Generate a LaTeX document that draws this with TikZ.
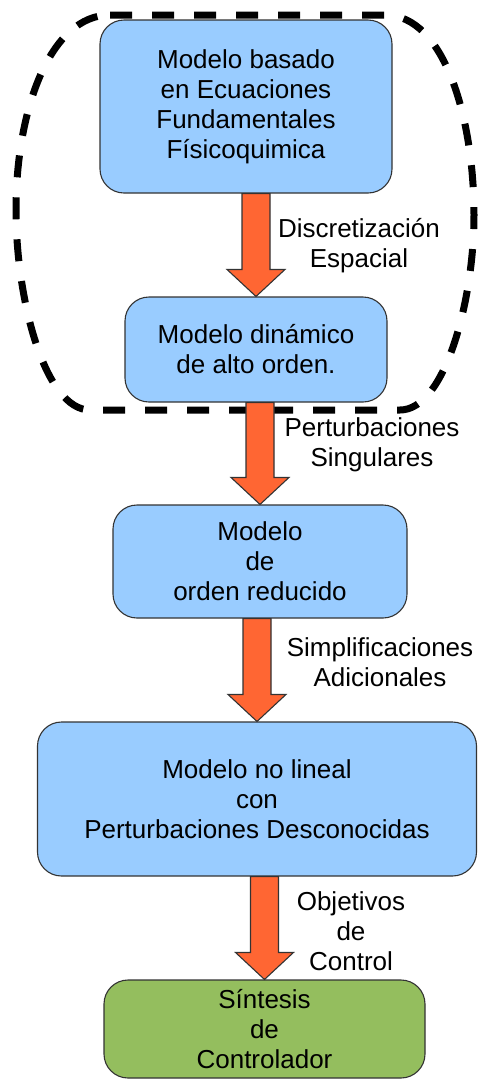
\documentclass[tikz,border=0pt]{standalone}
\usepackage{fontspec}
\setmainfont{Liberation Sans}
\usetikzlibrary{calc}

\definecolor{boxblue}{RGB}{153,204,255}
\definecolor{boxgreen}{RGB}{148,190,94}
\definecolor{arroworange}{RGB}{255,102,51}
\definecolor{edgegray}{RGB}{51,51,51}

\tikzset{
	modelbox/.style={draw=edgegray, line width=1.1pt, fill=boxblue,
		rounded corners=24pt, align=center, inner sep=0pt,
		font=\fontsize{26}{30}\selectfont},
	stepnote/.style={align=center, font=\fontsize{26}{30}\selectfont},
	fatarrow/.style={draw=edgegray, line width=1.1pt, fill=arroworange,
		line join=miter,
		to path={let \p1=(\tikztostart), \p2=(\tikztotarget) in
			(\x2-14pt,\y1) -- (\x2-14pt,\y2+27pt) -- (\x2-29pt,\y2+27pt)
			-- (\x2,\y2) -- (\x2+29pt,\y2+27pt) -- (\x2+14pt,\y2+27pt)
			-- (\x2+14pt,\y1) -- cycle}},
	groupline/.style={line width=7pt, dash pattern=on 22pt off 20pt}
}

\begin{document}
\begin{tikzpicture}[x=1pt, y=-1pt]

	\useasboundingbox (0,0) rectangle (478,1080);

	% high order group
	\draw[groupline]
	(110,15) -- (385,15)
	.. controls (445,15) and (474,120) .. (474,215)
	.. controls (474,300) and (445,410) .. (400,410)
	-- (90,410)
	.. controls (45,410) and (16,300) .. (16,210)
	.. controls (16,110) and (50,15) .. cycle;

	\node[modelbox, minimum width=292pt, minimum height=173pt]
	(fund) at (246,106.5)
	{Modelo basado\\en Ecuaciones\\Fundamentales\\Físicoquimica};

	\node[modelbox, minimum width=262pt, minimum height=105pt]
	(alto) at (256,349.5)
	{Modelo dinámico\\de alto orden.};

	\node[modelbox, minimum width=294pt, minimum height=113pt]
	(reduc) at (260,561.5)
	{Modelo\\de\\orden reducido};

	\node[modelbox, minimum width=439pt, minimum height=154pt]
	(nolin) at (257,799)
	{Modelo no lineal\\con\\Perturbaciones Desconocidas};

	\node[modelbox, fill=boxgreen, minimum width=321pt, minimum height=98pt]
	(sint) at (264.5,1029)
	{Síntesis\\de\\Controlador};

	% arrows
	\path[fatarrow] (fund.south) to (alto.north);
	\path[fatarrow] (alto.south) to (reduc.north);
	\path[fatarrow] (reduc.south) to (nolin.north);
	\path[fatarrow] (nolin.south) to (sint.north);

	\node[stepnote] (disc) at (359,246) {Discretización\\Espacial};
	\node[stepnote] (pert) at (372,445) {Perturbaciones\\Singulares};
	\node[stepnote] (simp) at (380,662) {Simplificaciones\\Adicionales};
	\node[stepnote] (obje) at (351,931) {Objetivos\\de\\Control};

\end{tikzpicture}
\end{document}
